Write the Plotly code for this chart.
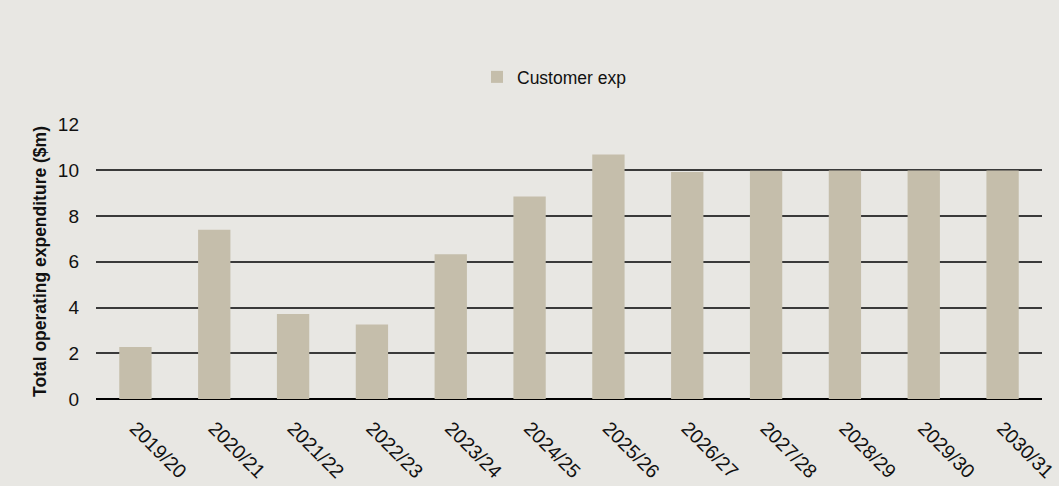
import plotly.graph_objects as go

categories = ["2019/20", "2020/21", "2021/22", "2022/23", "2023/24", "2024/25",
              "2025/26", "2026/27", "2027/28", "2028/29", "2029/30", "2030/31"]
customer_exp = [2.28, 7.40, 3.72, 3.26, 6.33, 8.86, 10.70, 9.93, 9.98, 10.0, 10.0, 10.0]
y_ticks = [0, 2, 4, 6, 8, 10, 12]

bg = "#E8E7E3"
fig = go.Figure()
fig.add_trace(go.Bar(
    x=categories, y=customer_exp, name="Customer exp",
    marker=dict(color="#C5BEAB", line=dict(width=0)),
    showlegend=True,
))

fig.update_layout(
    width=1059, height=486,
    paper_bgcolor=bg, plot_bgcolor=bg,
    margin=dict(l=96, r=17, t=124, b=87, autoexpand=False),
    bargap=0.59,
    font=dict(family="Liberation Sans, Arial, sans-serif", color="#111", size=17),
    showlegend=True,
    legend=dict(orientation="h", x=477 / 1059, xanchor="left", xref="container",
                y=1 - 77 / 486, yanchor="middle", yref="container",
                font=dict(size=17.5, color="#111"), bgcolor="rgba(0,0,0,0)"),
    xaxis=dict(tickangle=45, showgrid=False, ticks="", tickfont=dict(size=19.5, color="#111"),
               showline=False, ticklabelstandoff=13, automargin=False),
    yaxis=dict(range=[0, 12.03], tickvals=y_ticks, showgrid=True, gridcolor="#3a3a3a", gridwidth=1.5,
               zeroline=True, zerolinecolor="#000", zerolinewidth=2, automargin=False,
               tickfont=dict(size=19, color="#111"), ticks="", ticklabelstandoff=16,
               title=dict(text="<b>Total operating expenditure ($m)</b>", font=dict(size=17.5, color="#111"),
                          standoff=6)),
)

fig.write_html("out.html")
